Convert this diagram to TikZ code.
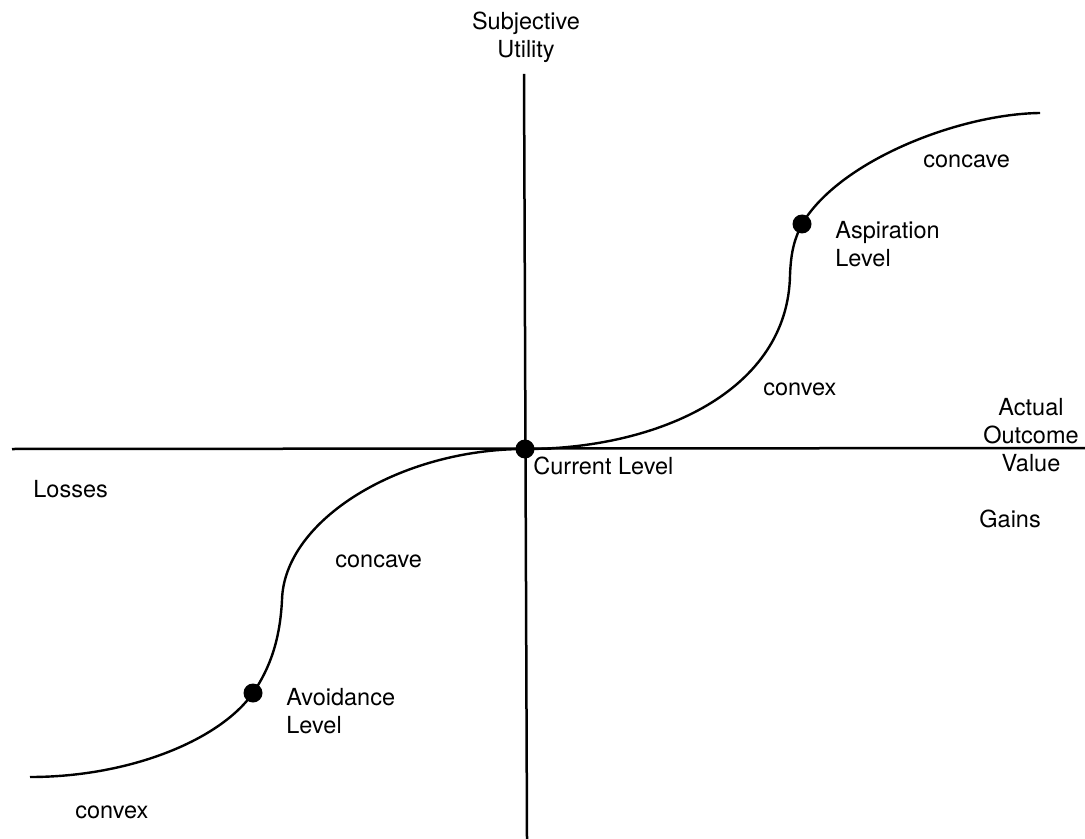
\documentclass[tikz,border=0pt]{standalone}
\usepackage{fontspec}
\setmainfont{TeX Gyre Heros}

\begin{document}
\begin{tikzpicture}[x=0.5pt, y=-0.5pt,
    txt/.style={font=\fontsize{11.75}{14}\selectfont, inner sep=0pt},
    dot/.style={circle, fill=black, inner sep=0pt, minimum size=9.5pt}]
    \useasboundingbox (0,0) rectangle (1085,839);

    % Axes
    \coordinate (ytop) at (524,74);
    \coordinate (ybot) at (527,839);
    \coordinate (xleft) at (12,449);
    \coordinate (xright) at (1085,448);
    \draw[line width=1.25pt] (ytop) -- (ybot);
    \draw[line width=1.25pt] (xleft) -- (xright);

    % Reference levels on the curve
    \coordinate (lowend) at (30,777);
    \coordinate (avo) at (253,693);
    \coordinate (cur) at (525,449);
    \coordinate (asp) at (802,224);
    \coordinate (highend) at (1040,113);

    % S-shaped utility curve
    \draw[line width=1.2pt] (lowend) .. controls (130,777) and (220,740) .. (avo)
        .. controls (270,668) and (280,640) .. (282,600)
        .. controls (284,520) and (400,449) .. (cur)
        .. controls (660,449) and (788,390) .. (790,275)
        .. controls (791,250) and (795,238) .. (asp)
        .. controls (840,160) and (960,114) .. (highend);

    % Level markers
    \node[dot] (curdot) at (cur) {};
    \node[dot] (aspdot) at (asp) {};
    \node[dot] (avodot) at (avo) {};

    % Axis labels
    \node[txt, anchor=north, align=center] (ylabel) at (526,12) {Subjective\\Utility};
    \node[txt, anchor=north, align=center] (xlabel) at (1031,398) {Actual\\Outcome\\Value};
    \node[txt, anchor=base west] (losses) at (33,497) {Losses};
    \node[txt, anchor=base west] (gains) at (979,527) {Gains};

    % Level labels
    \node[txt, anchor=base west] (curlabel) at (533,474) {Current Level};
    \node[txt, anchor=north west, align=left] (asplabel) at (835,221) {Aspiration\\Level};
    \node[txt, anchor=north west, align=left] (avolabel) at (286,688) {Avoidance\\Level};

    % Shape of each part
    \node[txt, anchor=base west] (concavehi) at (923,168) {concave};
    \node[txt, anchor=base west] (convexhi) at (763,395) {convex};
    \node[txt, anchor=base west] (concavelo) at (335,567) {concave};
    \node[txt, anchor=base west] (convexlo) at (75,818) {convex};
\end{tikzpicture}
\end{document}
